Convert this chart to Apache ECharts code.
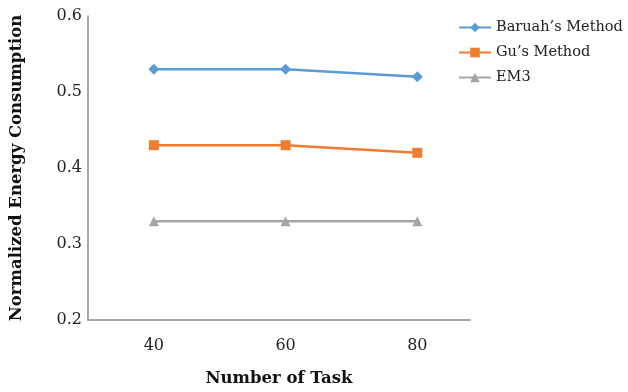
<!DOCTYPE html>
<html>
<head>
<meta charset="utf-8">
<style>
  html, body { margin: 0; padding: 0; background: #fff; }
  #chart { width: 628px; height: 392px; }
</style>
<script src="https://cdn.jsdelivr.net/npm/echarts@6/dist/echarts.min.js"></script>
</head>
<body>
<div id="chart"></div>
<script>
// Number of tasks on the x axis
const tasks = [40, 60, 80];
// Normalized energy consumption per method
const baruah = [0.53, 0.53, 0.52];
const gu = [0.43, 0.43, 0.42];
const em3 = [0.33, 0.33, 0.33];
// Labels shown on the x axis
const xTickLabels = [40, 60, 80];

const serif = 'DejaVu Serif';
const pairs = vals => tasks.map((t, i) => [t, vals[i]]);

const chart = echarts.init(document.getElementById('chart'), null, { renderer: 'canvas' });

function lineSeries(name, vals, color, symbol, size) {
  return {
    name: name,
    type: 'line',
    data: pairs(vals),
    symbol: symbol,
    symbolSize: size,
    lineStyle: { color: color, width: 2.5 },
    itemStyle: { color: color },
    animation: false
  };
}

chart.setOption({
  backgroundColor: '#fff',
  grid: { left: 83, right: 158, top: 16, bottom: 68, containLabel: false },
  legend: {
    orient: 'vertical',
    left: 453,
    top: 15,
    itemWidth: 32,
    itemHeight: 12,
    itemGap: 10,
    textStyle: { fontFamily: serif, fontSize: 14.5, color: '#222' },
    data: ["Baruah’s Method", "Gu’s Method", 'EM3']
  },
  xAxis: {
    type: 'value',
    min: 30,
    max: 88,
    interval: 10,
    name: 'Number of Task',
    nameLocation: 'middle',
    nameGap: 50,
    nameTextStyle: { fontFamily: serif, fontWeight: 'bold', fontSize: 16.5, color: '#111' },
    axisLine: { show: true, lineStyle: { color: '#8c8c8c', width: 1.5 } },
    axisTick: { show: false },
    splitLine: { show: false },
    axisLabel: {
      margin: 18,
      fontFamily: serif,
      fontSize: 16,
      color: '#222',
      showMinLabel: false,
      showMaxLabel: false,
      formatter: v => (xTickLabels.indexOf(v) >= 0 ? String(v) : '')
    }
  },
  yAxis: {
    type: 'value',
    min: 0.2,
    max: 0.6,
    interval: 0.1,
    name: 'Normalized Energy Consumption',
    nameLocation: 'middle',
    nameGap: 63,
    nameTextStyle: { fontFamily: serif, fontWeight: 'bold', fontSize: 16.5, color: '#111' },
    axisLine: { show: true, lineStyle: { color: '#8c8c8c', width: 1.5 } },
    axisTick: { show: false },
    splitLine: { show: false },
    axisLabel: {
      margin: 6,
      fontFamily: serif,
      fontSize: 16,
      color: '#222',
      formatter: v => v.toFixed(1)
    }
  },
  series: [
    lineSeries("Baruah’s Method", baruah, '#5B9BD5', 'diamond', 11),
    lineSeries("Gu’s Method", gu, '#ED7D31', 'rect', 10),
    lineSeries('EM3', em3, '#A5A5A5', 'triangle', 10)
  ]
});
</script>
</body>
</html>
